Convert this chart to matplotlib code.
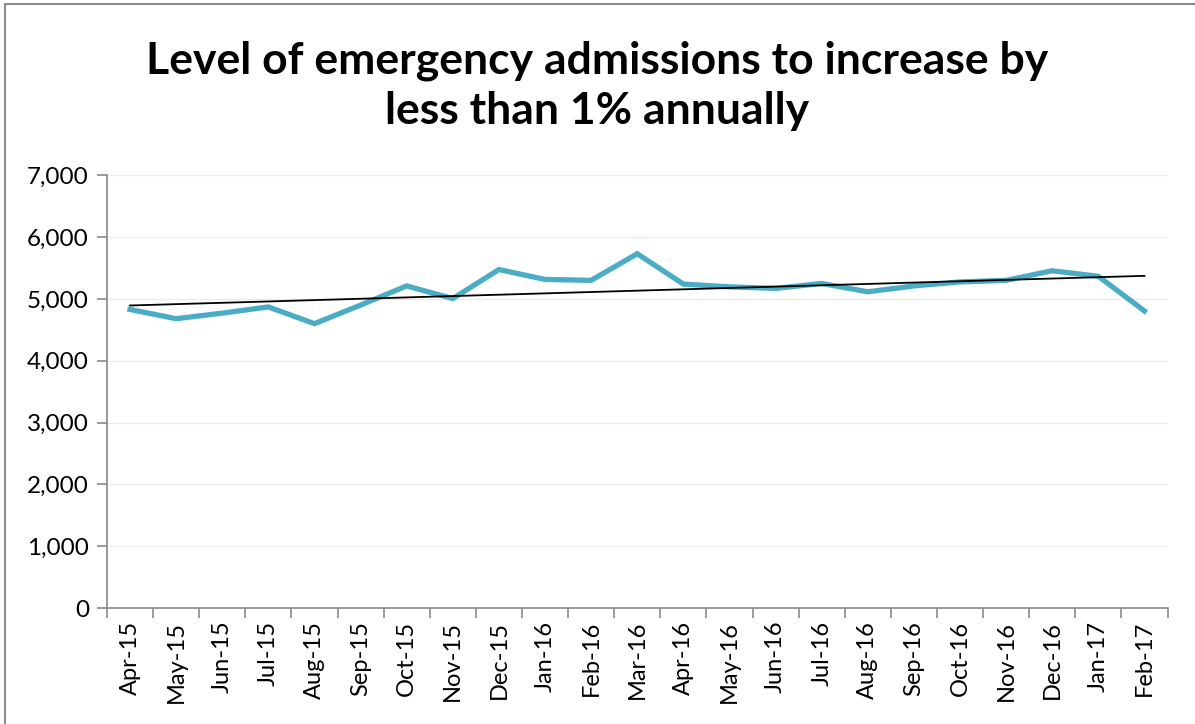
import matplotlib
matplotlib.use("Agg")
import matplotlib.pyplot as plt
from matplotlib.ticker import FuncFormatter, MultipleLocator, FixedLocator
from matplotlib.lines import Line2D
import numpy as np

months = ["Apr-15", "May-15", "Jun-15", "Jul-15", "Aug-15", "Sep-15", "Oct-15",
          "Nov-15", "Dec-15", "Jan-16", "Feb-16", "Mar-16", "Apr-16", "May-16",
          "Jun-16", "Jul-16", "Aug-16", "Sep-16", "Oct-16", "Nov-16", "Dec-16",
          "Jan-17", "Feb-17"]
admissions = [4830, 4680, 4770, 4870, 4600, 4900, 5210, 5005, 5475, 5315, 5300,
              5730, 5240, 5195, 5170, 5250, 5115, 5210, 5275, 5300, 5455, 5365, 4805]

plt.rcParams['font.family'] = ['Lato', 'DejaVu Sans']

fig = plt.figure(figsize=(11.95, 7.24), dpi=100)
# chart-area border: only top and left edges are visible in the crop
fx, fy = 5 / 1195, 1 - 4 / 724
fig.add_artist(Line2D([fx, 1], [fy, fy], transform=fig.transFigure, color="#8c8c8c", linewidth=1.5))
fig.add_artist(Line2D([fx, fx], [0, fy], transform=fig.transFigure, color="#8c8c8c", linewidth=1.5))

ax = fig.add_axes([0.0895, 0.160, 0.8875, 0.598])

x = np.arange(len(months))
ax.plot(x, admissions, color="#4BACC6", linewidth=3.8, solid_joinstyle="miter", zorder=3)

# linear trendline
k, b = np.polyfit(x, admissions, 1)
ax.plot(x, k * x + b, color="black", linewidth=1.3, zorder=4)

ax.set_xlim(-0.5, len(months) - 0.5)
ax.set_ylim(0, 7000)
ax.yaxis.set_major_locator(MultipleLocator(1000))
ax.yaxis.set_major_formatter(FuncFormatter(lambda v, p: f"{int(v):,}"))
ax.grid(axis="y", color="#ebebeb", linewidth=1)
ax.set_axisbelow(True)

ax.set_xticks(x)
ax.set_xticklabels(months, rotation=90, fontsize=17)
ax.tick_params(axis="x", which="major", length=0, pad=9)
ax.xaxis.set_minor_locator(FixedLocator(np.arange(-0.5, len(months), 1)))
ax.tick_params(axis="x", which="minor", length=7, color="#898989", width=1.2)
ax.tick_params(axis="y", labelsize=17.5, length=7, color="#898989", width=1.2, pad=6)

for s in ["top", "right"]:
    ax.spines[s].set_visible(False)
for s in ["left", "bottom"]:
    ax.spines[s].set_color("#898989")
    ax.spines[s].set_linewidth(1.2)

fig.text(0.5, 0.881, "Level of emergency admissions to increase by\nless than 1% annually",
         ha="center", va="center", fontsize=32, fontweight="bold", linespacing=1.3)

fig.savefig("out.png", dpi=100)
